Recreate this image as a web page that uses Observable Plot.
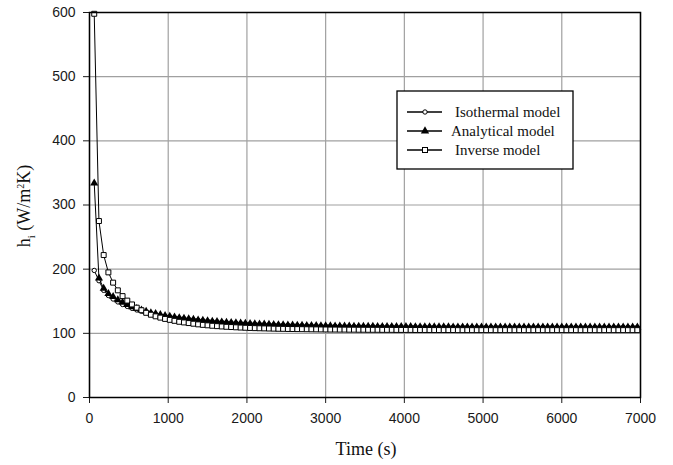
<!DOCTYPE html>
<html><head><meta charset="utf-8">
<script src="https://cdn.jsdelivr.net/npm/d3@7"></script>
<script src="https://cdn.jsdelivr.net/npm/@observablehq/plot@0.6"></script>
<style>body{margin:0;background:#fff}</style>
</head><body><div id="chart"></div>
<script>
const times = [60,120,180,240,300,360,420,480,540,600,660,720,780,840,900,960,1020,1080,1140,1200,1260,1320,1380,1440,1500,1560,1620,1680,1740,1800,1860,1920,1980,2040,2100,2160,2220,2280,2340,2400,2460,2520,2580,2640,2700,2760,2820,2880,2940,3000,
3060,3120,3180,3240,3300,3360,3420,3480,3540,3600,3660,3720,3780,3840,3900,3960,4020,4080,4140,4200,4260,4320,4380,4440,4500,4560,4620,4680,4740,4800,4860,4920,4980,5040,5100,5160,5220,5280,5340,5400,5460,5520,5580,5640,5700,5760,5820,5880,5940,6000,6060,6120,6180,6240,6300,6360,6420,6480,6540,6600,6660,6720,6780,6840,6900,6960];

const isothermal = [198,182,167,159,153.5,149,145,142,139,136.5,134.5,132.5,131,129.5,128,126.8,125.7,124.7,123.7,122.8,121.9,121.1,120.4,119.7,119,118.4,117.8,117.3,116.8,116.3,115.9,115.5,115.1,114.7,114.4,114.1,113.8,113.5,113.2,113,112.8,112.6,112.4,112.2,112,111.8,111.7,111.5,111.4,111.2,
111.1,111,110.9,110.8,110.7,110.6,110.6,110.5,110.4,110.4,110.3,110.3,110.2,110.2,110.1,110.1,110,110,110,109.9,109.9,109.9,109.8,109.8,109.8,109.7,109.7,109.7,109.7,109.6,
109.6,109.6,109.6,109.6,109.6,109.6,109.6,109.6,109.6,109.6,109.5,109.5,109.5,109.5,109.5,109.5,109.5,109.5,109.5,109.5,109.5,109.5,109.5,109.5,109.5,109.5,109.5,109.5,109.5,109.5,109.5,109.5,109.5,109.5,109.5,109.5];

const analytical = [334,186,170,162,157,152,148,144.5,141,138.5,136,134,132,130.5,129,127.5,126.3,125.2,124.2,123.2,122.3,121.5,120.7,120,119.3,118.7,118.1,117.6,117.1,116.6,116.2,115.8,115.4,115,114.7,114.4,114.1,113.8,113.5,113.3,113.1,112.9,112.7,112.5,112.3,112.1,112,111.8,111.7,111.5,
111.4,111.3,111.2,111.1,111,110.9,110.8,110.7,110.7,110.6,110.5,110.5,110.4,110.4,110.3,110.3,110.2,110.2,110.1,110.1,110,110,110,109.9,109.9,109.9,109.8,109.8,109.8,109.8,
109.7,109.7,109.7,109.7,109.7,109.7,109.7,109.7,109.7,109.7,109.7,109.7,109.6,109.6,109.6,109.6,109.6,109.6,109.6,109.6,109.6,109.6,109.6,109.6,109.6,109.6,109.6,109.6,109.6,109.6,109.6,109.6,109.6,109.6,109.6,109.6];

const inverse = [598,275,222,195,179,167,158,151,145,140,136,132,129,126.5,124.5,122.5,121,119.5,118,117,116,115,114,113.2,112.5,111.8,111.2,110.7,110.2,109.8,109.4,109,108.7,108.4,108.1,107.9,107.7,107.5,107.3,107.1,107,106.8,106.7,106.6,106.5,106.4,106.3,106.2,106.1,106,
105.9,105.9,105.8,105.8,105.7,105.7,105.6,105.6,105.5,105.5,105.5,105.4,105.4,105.4,105.3,105.3,105.3,105.3,105.2,105.2,105.2,105.2,105.1,105.1,105.1,105.1,105.1,105,105,105,
105,105,105,105,105,105,105,105,105,105,105,105,105,105,105,105,105,105,105,105,105,105,105,105,105,105,105,105,105,105,105,105,105,105,105,105];

const xTicks = [0,1000,2000,3000,4000,5000,6000,7000];
const yTicks = [0,100,200,300,400,500,600];
const seriesNames = ["Isothermal model","Analytical model","Inverse model"];

const mk = (arr) => times.map((t,i) => ({t, v: arr[i]})).filter(d => d.v != null);
const iso = mk(isothermal), ana = mk(analytical), inv = mk(inverse);

const chart = Plot.plot({
  width: 673, height: 465,
  marginLeft: 89, marginRight: 33, marginTop: 12, marginBottom: 68,
  x: {domain: [0, 7000]},
  y: {domain: [0, 600]},
  style: {fontFamily: "'Liberation Sans', Arial, sans-serif", fontSize: "14px", color: "#1a1a1a", background: "#fff"},
  marks: [
    Plot.gridX(xTicks, {stroke: "#a0a0a0", strokeOpacity: 1, strokeWidth: 1.2}),
    Plot.gridY(yTicks, {stroke: "#a0a0a0", strokeOpacity: 1, strokeWidth: 1.2}),
    Plot.axisX({ticks: xTicks, tickSize: 6, tickPadding: 10, label: null, fontSize: 14, tickFormat: d => String(d)}),
    Plot.axisY({ticks: yTicks, tickSize: 6, tickPadding: 8, label: null, fontSize: 14, tickFormat: d => String(d)}),
    Plot.line(iso, {x: "t", y: "v", stroke: "#000", strokeWidth: 1}),
    Plot.dot(iso, {x: "t", y: "v", r: 2.2, fill: "#fff", stroke: "#000", strokeWidth: 1}),
    Plot.line(ana, {x: "t", y: "v", stroke: "#000", strokeWidth: 1}),
    Plot.dot(ana, {x: "t", y: "v", symbol: "triangle", r: 3, fill: "#000", stroke: "none"}),
    Plot.line(inv, {x: "t", y: "v", stroke: "#000", strokeWidth: 1}),
    Plot.dot(inv, {x: "t", y: "v", symbol: "square", r: 2.8, fill: "#fff", stroke: "#000", strokeWidth: 1}),
    Plot.frame({stroke: "#000", strokeWidth: 1.5})
  ]
});
document.getElementById("chart").append(chart);

const svg = d3.select(chart);
const serif = "'Liberation Serif', 'Times New Roman', serif";
// x title
svg.append("text").attr("x", 366).attr("y", 455).attr("text-anchor", "middle")
  .attr("font-family", serif).attr("font-size", 18).attr("fill", "#111").text("Time (s)");
// y title
const yt = svg.append("text").attr("transform", "translate(30,206) rotate(-90)")
  .attr("text-anchor", "middle").attr("font-family", serif).attr("font-size", 18).attr("fill", "#111");
yt.append("tspan").text("h");
yt.append("tspan").attr("font-size", 11).attr("dy", 5).text("i");
yt.append("tspan").attr("dy", -5).text(" (W/m");
yt.append("tspan").attr("font-size", 10).attr("dy", -6).text("2");
yt.append("tspan").attr("dy", 6).text("K)");

// legend
const lg = svg.append("g");
lg.append("rect").attr("x", 397).attr("y", 91).attr("width", 176).attr("height", 78)
  .attr("fill", "#fff").attr("stroke", "#000").attr("stroke-width", 1.3);
const rowsY = [112, 131, 150];
const textX = [455, 451, 455];
seriesNames.forEach((name, i) => {
  const y = rowsY[i];
  lg.append("line").attr("x1", 407).attr("x2", 442).attr("y1", y).attr("y2", y)
    .attr("stroke", "#000").attr("stroke-width", 1.3);
  if (i === 0) lg.append("circle").attr("cx", 425).attr("cy", y).attr("r", 2.2).attr("fill", "#fff").attr("stroke", "#000");
  if (i === 1) lg.append("path").attr("d", d3.symbol(d3.symbolTriangle, 30)()).attr("transform", `translate(425,${y})`).attr("fill", "#000");
  if (i === 2) lg.append("rect").attr("x", 422.5).attr("y", y - 2.5).attr("width", 5).attr("height", 5).attr("fill", "#fff").attr("stroke", "#000");
  lg.append("text").attr("x", textX[i]).attr("y", y + 5).attr("text-anchor", "start")
    .attr("font-family", serif).attr("font-size", 15).attr("fill", "#111").text(name);
});
</script>
</body></html>
